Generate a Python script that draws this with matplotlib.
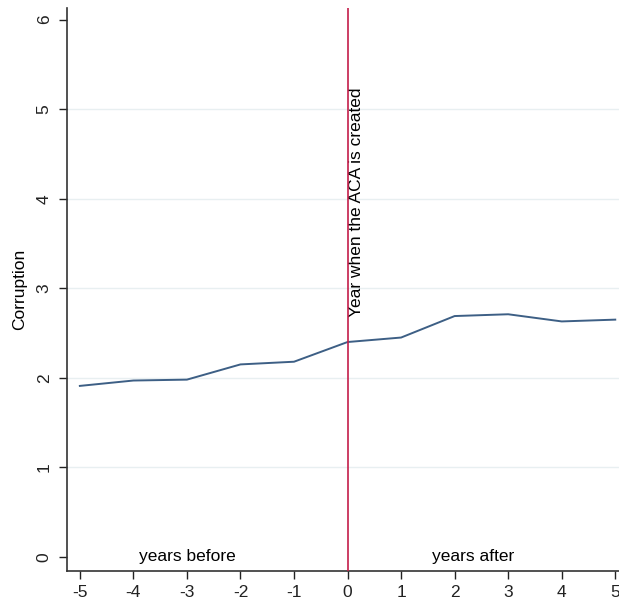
import matplotlib
matplotlib.use("Agg")
import matplotlib.pyplot as plt

plt.rcParams['font.family'] = ['Liberation Sans', 'DejaVu Sans']

years = [-5, -4, -3, -2, -1, 0, 1, 2, 3, 4, 5]
corruption = [1.91, 1.97, 1.98, 2.15, 2.18, 2.40, 2.45, 2.69, 2.71, 2.63, 2.65]
xticks = [-5, -4, -3, -2, -1, 0, 1, 2, 3, 4, 5]
yticks = [0, 1, 2, 3, 4, 5, 6]

W, H = 619, 604
fig = plt.figure(figsize=(W/100, H/100), dpi=100)
ax = fig.add_axes([67/W, 33/H, 552/W, 563/H])

ax.plot(years, corruption, color='#3d5f85', lw=1.4, zorder=3)
ax.axvline(0, color='#c41e4a', lw=1.2, zorder=4)

for y in [1, 2, 3, 4, 5]:
    ax.axhline(y, color='#e8eff1', lw=1.0, zorder=1)

ax.set_xlim(-5.24, 5.07)
ax.set_ylim(-0.157, 6.13)
ax.set_xticks(xticks)
ax.set_xticklabels([str(t) for t in xticks])
ax.set_yticks(yticks)
ax.set_yticklabels([str(t) for t in yticks], rotation=90, va='center')
ax.tick_params(axis='both', direction='out', length=6, width=1.0, labelsize=12.5, colors='#222222')
ax.tick_params(axis='y', pad=5)
ax.tick_params(axis='x', pad=4)

for s in ['top', 'right']:
    ax.spines[s].set_visible(False)
for s in ['left', 'bottom']:
    ax.spines[s].set_color('#333333')
    ax.spines[s].set_linewidth(1.2)

ax.set_ylabel('Corruption', fontsize=12.5, labelpad=7)

ax.text(-3, 0.0, 'years before', ha='center', va='center', fontsize=12.5)
ax.text(2.34, 0.0, 'years after', ha='center', va='center', fontsize=12.5)
ax.text(0.02, 2.68, 'Year when the ACA is created', rotation=90, ha='left', va='bottom', fontsize=12.5)

fig.savefig('out.png', dpi=100)
